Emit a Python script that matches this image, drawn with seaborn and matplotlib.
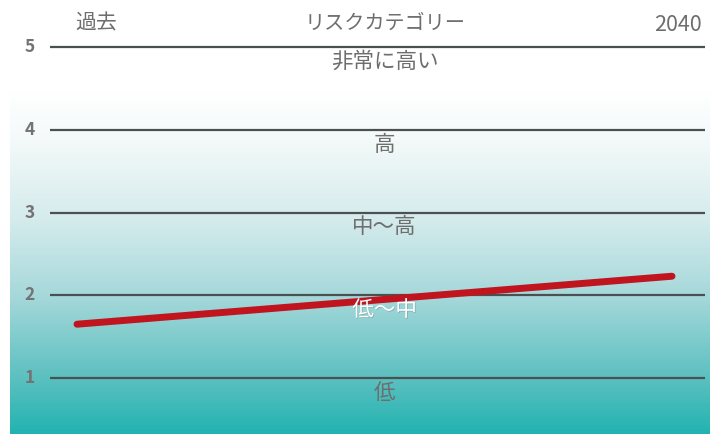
import numpy as np
import pandas as pd
import matplotlib
matplotlib.use("Agg")
import matplotlib.pyplot as plt
import matplotlib.patheffects as pe
from matplotlib.colors import LinearSegmentedColormap
import seaborn as sns

# ---- data ----
periods = ["過去", "2040"]
period_pos = [0, 1]
risk_values = [1.65, 2.23]
levels = [1, 2, 3, 4, 5]
level_labels = ["低", "低～中", "中～高", "高", "非常に高い"]
header_title = "リスクカテゴリー"

sns.set_theme(style="white")
plt.rcParams['font.family'] = ['Noto Sans CJK JP', 'DejaVu Sans']

W, H = 717, 434
fig = plt.figure(figsize=(W / 100, H / 100), dpi=100)
fig.patch.set_facecolor("white")

# axes covering the gradient block (x: 10..710 px)
ax = fig.add_axes([10 / W, 0, 700 / W, 1])
px_per_unit_y = 82.75
ybot = 1 - (434 - 378) / px_per_unit_y
ytop = 1 + 378 / px_per_unit_y
px_per_unit_x = 595.0
xleft = (10 - 77) / px_per_unit_x
xright = (710 - 77) / px_per_unit_x

# gradient background (white on top -> teal bottom)
cmap = LinearSegmentedColormap.from_list(
    "bg", [(0.0, "#22b3b1"), (0.17, "#5fc1c1"), (0.40, "#a6d8da"),
           (0.62, "#d4ebec"), (0.85, "#f3f9f9"), (1.0, "#ffffff")])
grad_top = 1 + (378 - 90) / px_per_unit_y
g = np.linspace(0, 1, 400).reshape(-1, 1)
ax.imshow(g, aspect="auto", cmap=cmap, origin="lower",
          extent=[xleft, xright, ybot, grad_top], zorder=0)
ax.fill_between([xleft, xright], grad_top, ytop, color="white", zorder=0)

# horizontal level lines
x0 = (50 - 77) / px_per_unit_x
x1 = (705 - 77) / px_per_unit_x
ax.hlines(levels, x0, x1, color="#4a5152", lw=1.6, zorder=1)

# level labels
for lv, lab in zip(levels, level_labels):
    col = "white" if lab == "低～中" else "#6e6e6e"
    eff = [pe.withSimplePatchShadow(offset=(0.5, -0.5), shadow_rgbFace="#555555", alpha=0.35)] if col == "white" else []
    ax.text(0.517, lv - 0.18, lab, ha="center", va="center", fontsize=15.5,
            color=col, zorder=4, path_effects=eff)

# red risk line
df = pd.DataFrame({"period": period_pos, "risk": risk_values})
sns.lineplot(data=df, x="period", y="risk", ax=ax, color="#c0141f", lw=5,
             solid_capstyle="round", zorder=3)
ax.set_xlim(xleft, xright)
ax.set_ylim(ybot, ytop)
ax.axis("off")

# y tick labels (outside axes on the left)
for lv in levels:
    y_px = 378 - (lv - 1) * px_per_unit_y
    fig.text(30 / W, 1 - y_px / H, str(lv), ha="center", va="center",
             fontsize=12.5, fontweight="bold", color="#737373")

# headers
fig.text(96 / W, 1 - 23 / H, periods[0], ha="center", va="center", fontsize=15, color="#6e6e6e")
fig.text(385 / W, 1 - 23 / H, header_title, ha="center", va="center", fontsize=14.5, color="#6e6e6e")
fig.text(702 / W, 1 - 25 / H, periods[1], ha="right", va="center", fontsize=15.5, color="#6e6e6e")

fig.savefig("out.png", dpi=100, facecolor="white")
